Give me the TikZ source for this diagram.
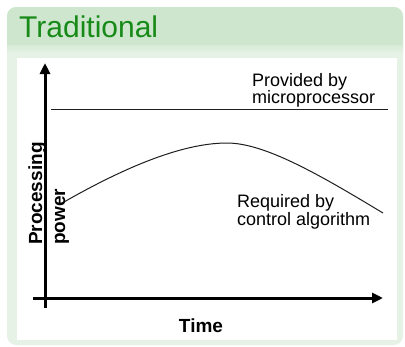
\documentclass[tikz,border=0pt]{standalone}
\usepackage{fontspec}
\setmainfont{Liberation Sans}
\usetikzlibrary{arrows.meta}
\definecolor{headgreen}{RGB}{206,230,206}
\definecolor{bodygreen}{RGB}{231,242,231}
\definecolor{titlegreen}{RGB}{24,138,24}
\definecolor{inkgray}{RGB}{30,30,30}
\tikzset{
  axis/.style={line width=3pt, -{Triangle[length=11pt,width=10pt]}},
  lbl/.style={inner sep=0pt, font=\fontsize{18}{18}\selectfont, anchor=base west},
  axlbl/.style={inner sep=0pt, font=\fontsize{19}{19}\selectfont\bfseries},
  thinline/.style={line width=1pt, draw=inkgray},
}
\begin{document}
\begin{tikzpicture}[x=1pt,y=-1pt]
\useasboundingbox (0,0) rectangle (405,346);
% block frame: body, header, shadow strip, white panel
\fill[bodygreen, rounded corners=9pt] (7,7) rectangle (403,345);
\fill[headgreen, rounded corners=9pt] (7,7) rectangle (403,60);
\fill[bodygreen] (7,45) rectangle (403,61);
\shade[top color=headgreen!60!bodygreen, bottom color=bodygreen] (7,45) rectangle (403,54);
\fill[white] (17,58) rectangle (397,340);
\node[inner sep=0pt, anchor=base west, text=titlegreen,
      font=\fontsize{30}{30}\selectfont] (title) at (19,37) {Traditional};
% axes
\coordinate (ybot) at (45,308);
\coordinate (ytop) at (45,63);
\coordinate (xleft) at (33,298);
\coordinate (xright) at (383,298);
\draw[axis] (ybot) -- (ytop);
\draw[axis] (xleft) -- (xright);
% available processing power
\coordinate (pa) at (51,109);
\coordinate (pb) at (388,109);
\draw[thinline] (pa) -- (pb);
% required processing power
\coordinate (c0) at (64,202);
\coordinate (c1) at (227,143);
\coordinate (c2) at (383,213);
\draw[thinline] (c0) .. controls (120,170) and (180,143) .. (c1)
                     .. controls (265,143) and (320,175) .. (c2);
% labels
\node[lbl] (prov1) at (252,86) {Provided by};
\node[lbl] (prov2) at (252,103) {microprocessor};
\node[lbl] (req1) at (237,207) {Required by};
\node[lbl] (req2) at (237,225) {control algorithm};
\node[axlbl, rotate=90, anchor=base west] (ylbl1) at (42,245) {Processing};
\node[axlbl, rotate=90, anchor=base west] (ylbl2) at (65,245) {power};
\node[axlbl, anchor=base] (xlbl) at (201,332) {Time};
\end{tikzpicture}
\end{document}
